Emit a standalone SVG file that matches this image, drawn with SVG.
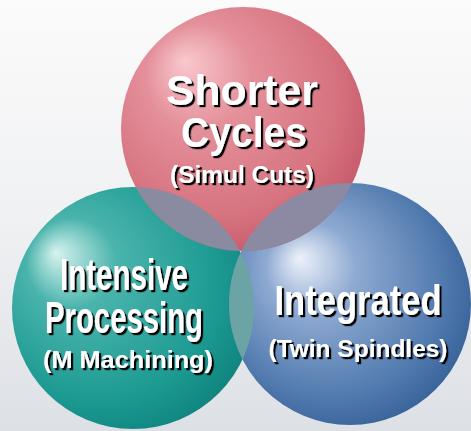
<svg xmlns="http://www.w3.org/2000/svg" width="471" height="431" viewBox="0 0 471 431">
<defs>
<linearGradient id="bg" x1="0" y1="0" x2="0" y2="1">
<stop offset="0" stop-color="#fbfbfb"/>
<stop offset="0.5" stop-color="#f0f1f3"/>
<stop offset="1" stop-color="#dde0e5"/>
</linearGradient>
<radialGradient id="gRed" cx="0.42" cy="0.4" r="0.62" fx="0.26" fy="0.22">
<stop offset="0" stop-color="#f9c8cd"/>
<stop offset="0.35" stop-color="#e4909b"/>
<stop offset="0.8" stop-color="#d6737f"/>
<stop offset="1" stop-color="#c85c6c"/>
</radialGradient>
<radialGradient id="gTeal" cx="0.4" cy="0.42" r="0.62" fx="0.18" fy="0.27">
<stop offset="0" stop-color="#d8f2ef"/>
<stop offset="0.3" stop-color="#4ab4ac"/>
<stop offset="0.8" stop-color="#1c9a92"/>
<stop offset="1" stop-color="#118680"/>
</radialGradient>
<radialGradient id="gBlue" cx="0.45" cy="0.45" r="0.62" fx="0.29" fy="0.31">
<stop offset="0" stop-color="#eef2fa"/>
<stop offset="0.3" stop-color="#8eaad2"/>
<stop offset="0.8" stop-color="#4c76ab"/>
<stop offset="1" stop-color="#325d93"/>
</radialGradient>
<clipPath id="cRed"><circle cx="243" cy="129" r="122"/></clipPath>
<clipPath id="cTeal"><circle cx="133" cy="308" r="121"/></clipPath>
<filter id="sh" x="-10%" y="-20%" width="130%" height="150%">
<feDropShadow dx="2.2" dy="2.2" stdDeviation="0.4" flood-color="#000" flood-opacity="1"/>
</filter>
</defs>
<style>
.t{font-family:"Liberation Sans",Arial,sans-serif;font-weight:bold;fill:#fff;text-anchor:middle;filter:url(#sh)}
</style>
<rect width="471" height="431" fill="url(#bg)"/>
<g id="node-teal">
<circle cx="133" cy="308" r="121" fill="url(#gTeal)"/>
</g>
<g id="node-blue">
<circle cx="350" cy="304" r="121" fill="url(#gBlue)"/>
</g>
<g id="node-red">
<circle cx="243" cy="129" r="122" fill="url(#gRed)"/>
</g>
<g id="overlaps">
<circle cx="133" cy="308" r="121" fill="#8a8aa0" clip-path="url(#cRed)"/>
<circle cx="350" cy="304" r="121" fill="#8c8aa2" clip-path="url(#cRed)"/>
<circle cx="350" cy="304" r="121" fill="#6ca4a6" clip-path="url(#cTeal)"/>
</g>
<g id="labels">
<text class="t" x="242" y="105" font-size="42" textLength="152" lengthAdjust="spacingAndGlyphs">Shorter</text>
<text class="t" x="244" y="147" font-size="42" textLength="126" lengthAdjust="spacingAndGlyphs">Cycles</text>
<text class="t" x="242" y="183" font-size="24" textLength="144" lengthAdjust="spacingAndGlyphs">(Simul Cuts)</text>
<text class="t" x="124" y="290" font-size="44" textLength="128" lengthAdjust="spacingAndGlyphs">Intensive</text>
<text class="t" x="124" y="333" font-size="44" textLength="158" lengthAdjust="spacingAndGlyphs">Processing</text>
<text class="t" x="128" y="368" font-size="23" textLength="170" lengthAdjust="spacingAndGlyphs">(M Machining)</text>
<text class="t" x="358" y="315" font-size="43" textLength="167" lengthAdjust="spacingAndGlyphs">Integrated</text>
<text class="t" x="358" y="357" font-size="23" textLength="179" lengthAdjust="spacingAndGlyphs">(Twin Spindles)</text>
</g>
</svg>
